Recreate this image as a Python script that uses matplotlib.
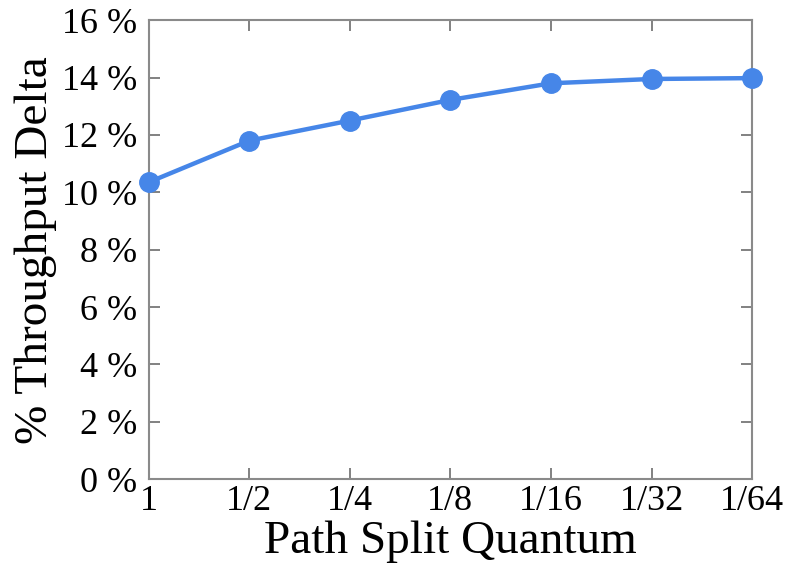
import numpy as np
import matplotlib
matplotlib.use("Agg")
from matplotlib import pyplot as plt

# datos
quantum_labels = ['1', '1/2', '1/4', '1/8', '1/16', '1/32', '1/64']
throughput_delta = [10.35, 11.8, 12.5, 13.22, 13.8, 13.95, 13.98]
y_ticks = [0, 2, 4, 6, 8, 10, 12, 14, 16]

plt.rcParams['font.family'] = ['Liberation Serif', 'DejaVu Serif']

fig = plt.figure(figsize=(7.95, 5.76), dpi=100)
ax = fig.add_axes([0.187, 0.168, 0.759, 0.797])

x = np.arange(len(quantum_labels))
ax.plot(x, throughput_delta, color='#4686e8', lw=3.2, marker='o',
        markersize=14, clip_on=False, zorder=3)

ax.set_xlim(0, len(quantum_labels) - 1)
ax.set_ylim(0, 16)
ax.set_xticks(x)
ax.set_xticklabels(quantum_labels)
ax.set_yticks(y_ticks)
ax.set_yticklabels(['%d %%' % v for v in y_ticks])

for s in ax.spines.values():
    s.set_color('#8a8a8a')
    s.set_linewidth(1.5)
ax.tick_params(direction='in', top=True, right=True, length=8, width=1.3,
               color='#777777', labelsize=26)
ax.tick_params(axis='x', pad=4)
ax.tick_params(axis='y', pad=8)

ax.set_xlabel('Path Split Quantum', fontsize=34, labelpad=2)
ax.set_ylabel('% Throughput Delta', fontsize=34, labelpad=4)

fig.savefig('out.png', dpi=100)
